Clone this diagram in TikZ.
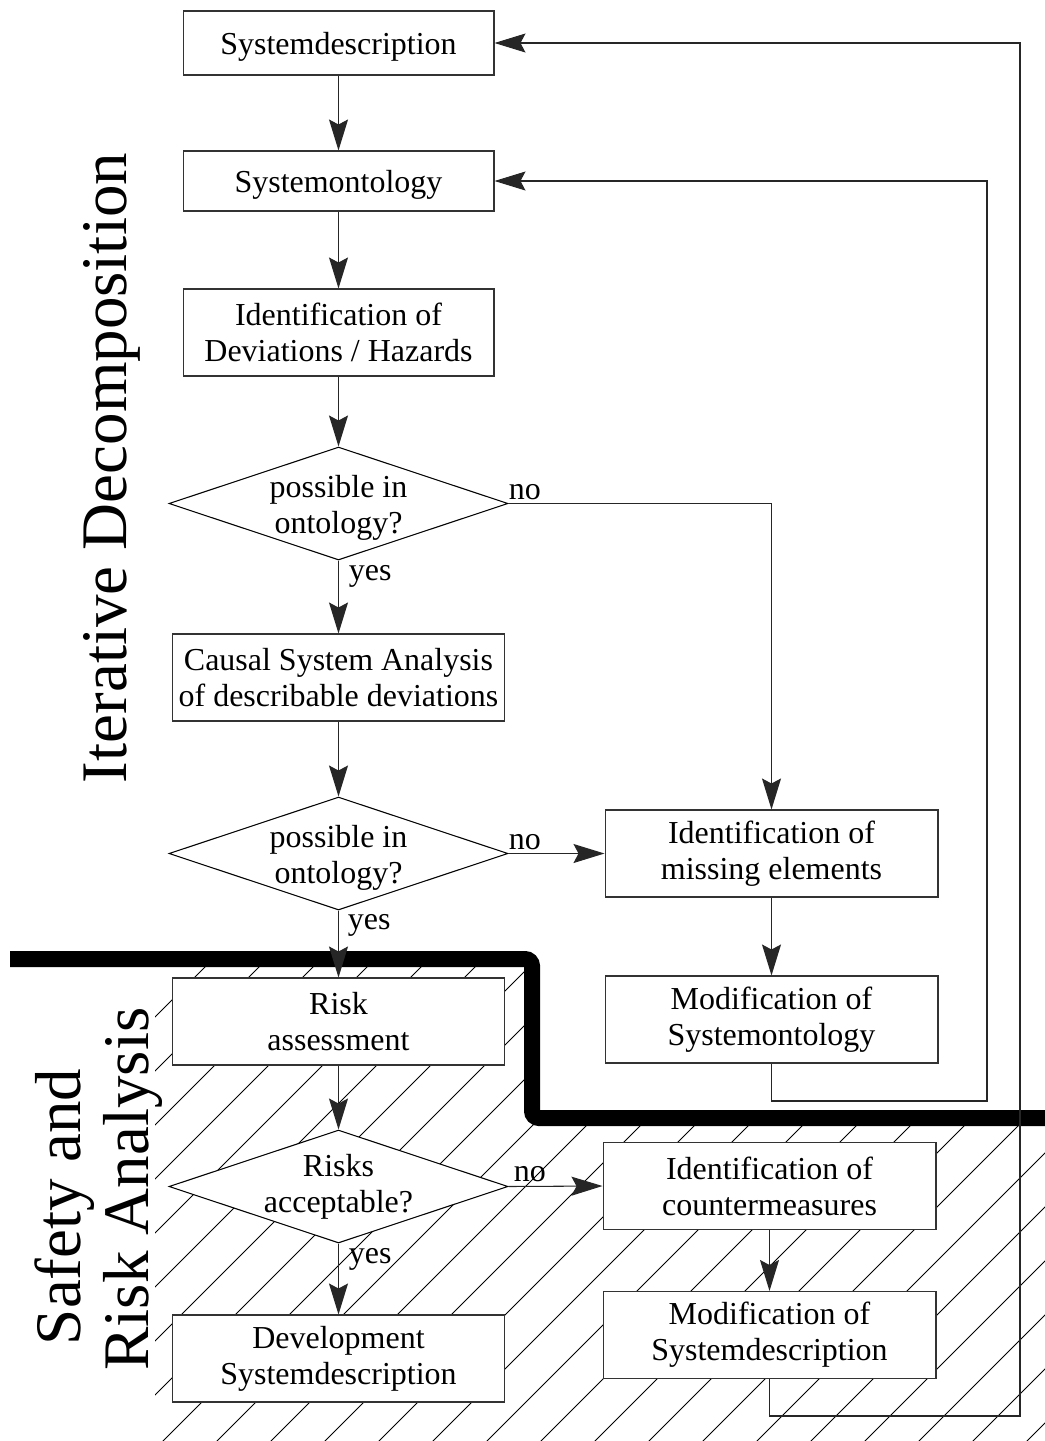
\documentclass[tikz,border=0pt]{standalone}
\usepackage{fontspec}
\setmainfont{Liberation Serif}
\usetikzlibrary{arrows.meta,shapes.geometric,calc}
\newcommand{\lowr}[1]{\raisebox{-0.07cm}[\height][\depth]{#1}}
\begin{document}
\begin{tikzpicture}[x=0.02cm,y=-0.02cm,
  boxn/.style={draw=black!80, fill=white, line width=0.6pt, align=center, inner sep=0pt,
    font=\fontsize{18.2}{20.5}\selectfont},
  wbox/.style={boxn, minimum width=6.22cm},
  nbox/.style={boxn, minimum width=6.66cm, minimum height=1.74cm},
  dia/.style={diamond, draw=black, fill=white, line width=0.6pt, inner sep=0pt,
    minimum width=6.78cm, minimum height=2.26cm},
  diatext/.style={align=center, inner sep=0pt, font=\fontsize{18.2}{20.5}\selectfont},
  lbl/.style={inner sep=0pt, font=\fontsize{18.2}{20.5}\selectfont},
  conn/.style={draw=black!85, line width=0.6pt, -{Stealth[length=0.62cm,width=0.38cm,inset=0.1cm]}},
  big/.style={font=\fontsize{37}{38.7}\selectfont, rotate=90, inner sep=0pt}
]
\useasboundingbox (0,0) rectangle (1045,1441);

% hatched area
\begin{scope}
\clip (155,958) -- (533,958) -- (533,1118) -- (1045,1118) -- (1045,1441) -- (155,1441) -- cycle;
\foreach \k in {-15,...,14} \draw[line width=0.5pt] ({1820+54*\k-1500},1500) -- ({1820+54*\k-900},900);
\end{scope}

% thick separator
\draw[line width=0.32cm, rounded corners=4] (10,959) -- (532,959) -- (532,1118) -- (1045,1118);

% big labels
\node[big, anchor=base] (itdec) at (126,468) {Iterative Decomposition};
\node[big, anchor=base] (saf1) at (80,1207) {Safety and};
\node[big, anchor=base] (saf2) at (148,1189) {Risk Analysis};

% boxes
\node[wbox, minimum height=1.28cm] (sd) at (338.5,43) {\lowr{Systemdescription}};
\node[wbox, minimum height=1.2cm] (so) at (338.5,181) {\lowr{Systemontology}};
\node[wbox, minimum height=1.74cm] (idh) at (338.5,332.5) {Identification of\\Deviations / Hazards};
\node[dia] (d1) at (338.5,503.5) {};
\node[diatext] (d1t) at ([shift={(0,4)}]d1.center) {possible in\\ontology?};
\node[nbox] (csa) at (338.5,677.5) {Causal System Analysis\\of describable deviations};
\node[dia] (d2) at (338.5,853.5) {};
\node[diatext] (d2t) at ([shift={(0,4)}]d2.center) {possible in\\ontology?};
\node[nbox] (ime) at (771.5,853.5) {Identification of\\missing elements};
\node[nbox] (mso) at (771.5,1019.5) {Modification of\\Systemontology};
\node[nbox] (ra) at (338.5,1021.5) {Risk\\assessment};
\node[dia] (d3) at (338.5,1186.5) {};
\node[diatext] (d3t) at (d3.center) {Risks\\acceptable?};
\node[nbox] (icm) at (769.5,1186) {Identification of\\countermeasures};
\node[nbox] (msd) at (769.5,1335) {Modification of\\Systemdescription};
\node[nbox] (dev) at (338.5,1358.5) {Development\\Systemdescription};

\coordinate (r1) at (987,1101);
\coordinate (r2) at (1020,1416);

% connectors
\draw[conn] (sd.south) -- (so.north);
\draw[conn] (so.south) -- (idh.north);
\draw[conn] (idh.south) -- (d1.north);
\draw[conn] (d1.south) -- (csa.north);
\draw[conn] (d1.east) -| (ime.north);
\draw[conn] (csa.south) -- (d2.north);
\draw[conn] (d2.east) -- (ime.west);
\draw[conn] (d2.south) -- (ra.north);
\draw[conn] (ime.south) -- (mso.north);
\draw[conn] (mso.south) |- (r1) |- (so.east);
\draw[conn] (ra.south) -- (d3.north);
\draw[conn] (d3.east) -- (icm.west);
\draw[conn] (d3.south) -- (dev.north);
\draw[conn] (icm.south) -- (msd.north);
\draw[conn] (msd.south) |- (r2) |- (sd.east);

% labels
\node[lbl, anchor=base west] (no1) at ([shift={(0,-4)}]d1.east) {no};
\node[lbl, anchor=base west] (yes1) at ([shift={(10,20)}]d1.south) {yes};
\node[lbl, anchor=base west] (no2) at ([shift={(0,-4)}]d2.east) {no};
\node[lbl, anchor=base west] (yes2) at ([shift={(9,19)}]d2.south) {yes};
\node[lbl, anchor=base west] (no3) at ([shift={(5,-5)}]d3.east) {no};
\node[lbl, anchor=base west] (yes3) at ([shift={(10,20)}]d3.south) {yes};
\end{tikzpicture}
\end{document}
